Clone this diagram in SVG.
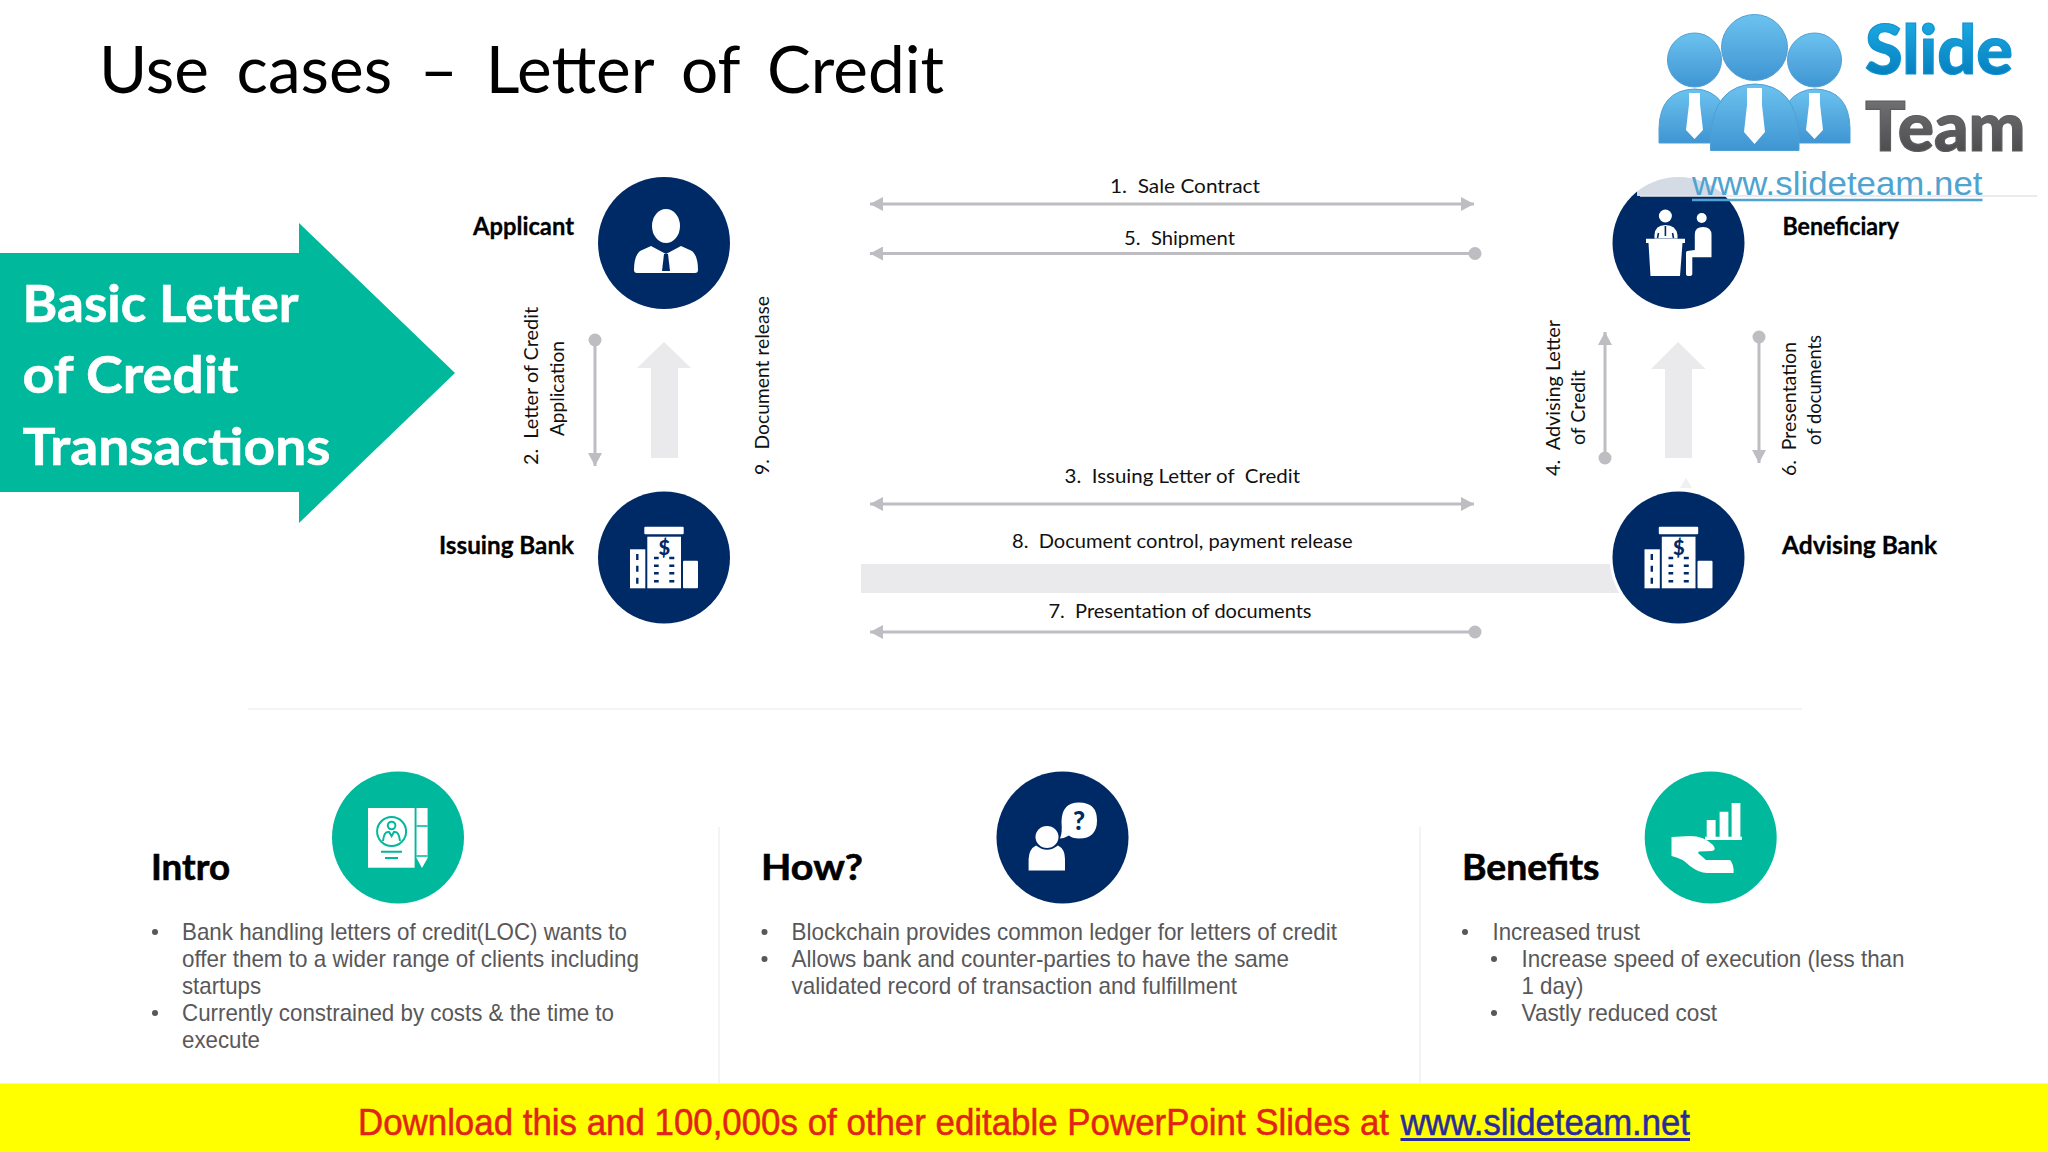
<svg xmlns="http://www.w3.org/2000/svg" width="2048" height="1152" viewBox="0 0 2048 1152">
<style>
text{font-family:"Lato","Noto Sans",sans-serif}
.lab{font-weight:700;font-size:24px;fill:#000;stroke:#000;stroke-width:.3}
.big{font-weight:700;font-size:52px;fill:#fff;stroke:#fff;stroke-width:.6}
.sec{font-weight:700;font-size:37px;fill:#000;stroke:#000;stroke-width:.6}
.t{font-size:20px;fill:#111}
.b{font-family:"Liberation Sans",Arial,sans-serif;font-size:24px;fill:#58585a}
.f{font-family:"Liberation Sans",Arial,sans-serif;font-size:36px;stroke-width:.5}
.w{fill:#fff}.n{fill:#002a66}.g{fill:#00b89c}.nl{stroke:#002a66;fill:none}.gl{stroke:#00b89c;fill:none}
.dot{fill:#58585a}
.c{stroke:#bdbdc2;stroke-width:3;fill:none}
.soft{fill:#eaeaec}
.sep{stroke:#f4f4f6;stroke-width:2;fill:none}
</style>
<defs>
<marker id="ae" markerUnits="userSpaceOnUse" markerWidth="14" markerHeight="14" refX="13" refY="7" orient="auto-start-reverse"><path d="M0 0L13 7L0 14Z" fill="#bdbdc2"/></marker>
<marker id="do" markerUnits="userSpaceOnUse" markerWidth="14" markerHeight="14" refX="7" refY="7"><circle cx="7" cy="7" r="6.5" fill="#bdbdc2"/></marker>
<linearGradient id="pg" x1="0" y1="0" x2="0" y2="1"><stop offset="0" stop-color="#6cc2ee"/><stop offset="1" stop-color="#3f95d2"/></linearGradient>
<linearGradient id="sg" x1="0" y1="0" x2="0" y2="1"><stop offset="0" stop-color="#22b4ea"/><stop offset="1" stop-color="#0076b6"/></linearGradient>
<linearGradient id="tg" x1="0" y1="0" x2="0" y2="1"><stop offset="0" stop-color="#7b7b7d"/><stop offset="1" stop-color="#454547"/></linearGradient>
<g id="bank">
<rect class="w" x="644.3" y="526.7" width="39.4" height="7.6" rx="1"/>
<rect class="w" x="647.3" y="536.7" width="33.7" height="51.6"/>
<rect class="w" x="630" y="549.3" width="15.3" height="39"/>
<rect class="w" x="683" y="560.7" width="15" height="27.6" rx="1"/>
<text x="664.3" y="555" text-anchor="middle" style="font-size:20px;font-weight:900;fill:#002a66">$</text>
<path class="nl" stroke-width="2.4" d="M654 558h4.7M669.3 558h5M654 565.7h4.7M669.3 565.7h5M654 573.3h4.7M669.3 573.3h5M654 581.3h4.7M669.3 581.3h5M637.3 554v6M637.3 565.7v6M637.3 577.7v6"/>
</g>
</defs>
<rect width="2048" height="1152" fill="#fff"/>

<text id="title" x="99" y="93" textLength="845" lengthAdjust="spacingAndGlyphs" style="font-size:66px;word-spacing:11px;fill:#000">Use cases – Letter of Credit</text>

<g id="banner">
<path class="g" d="M0 253H299V223L455 373L299 523V492H0Z"/>
<text class="big" x="22.500" y="322" textLength="276" lengthAdjust="spacingAndGlyphs">Basic Letter</text>
<text class="big" x="22.500" y="393" textLength="216" lengthAdjust="spacingAndGlyphs">of Credit</text>
<text class="big" x="22.500" y="465" textLength="308" lengthAdjust="spacingAndGlyphs">Transactions</text>
</g>

<g id="soft-arrows">
<path class="soft" d="M664 342L691 368H678V458H651V368H637Z"/>
<path class="soft" d="M1678 342L1705.500 369H1692V458H1665V369H1651Z"/>
<path fill="#f0f0f3" d="M1686 478L1692 488H1680Z"/>
<rect class="soft" x="861" y="564" width="780" height="29"/>
</g>

<g id="connectors">
<path class="c" d="M595 340V466" marker-start="url(#do)" marker-end="url(#ae)"/>
<path class="c" d="M1605 458V332" marker-start="url(#do)" marker-end="url(#ae)"/>
<path class="c" d="M1759 337V463" marker-start="url(#do)" marker-end="url(#ae)"/>
<path class="c" d="M1474 204H870" marker-start="url(#ae)" marker-end="url(#ae)"/>
<path class="c" d="M1475 253.500H870" marker-start="url(#do)" marker-end="url(#ae)"/>
<path class="c" d="M1474 504H870" marker-start="url(#ae)" marker-end="url(#ae)"/>
<path class="c" d="M1475 632H870" marker-start="url(#do)" marker-end="url(#ae)"/>
</g>

<g id="connector-labels">
<text class="t" x="1110" y="193" textLength="150" lengthAdjust="spacingAndGlyphs" xml:space="preserve">1.  Sale Contract</text>
<text class="t" x="1124" y="245" textLength="111" lengthAdjust="spacingAndGlyphs" xml:space="preserve">5.  Shipment</text>
<text class="t" x="1064.500" y="483" textLength="235.500" lengthAdjust="spacingAndGlyphs" xml:space="preserve">3.  Issuing Letter of  Credit</text>
<text class="t" x="1012" y="548" textLength="340.500" lengthAdjust="spacingAndGlyphs" xml:space="preserve">8.  Document control, payment release</text>
<text class="t" x="1048.500" y="618" textLength="263" lengthAdjust="spacingAndGlyphs" xml:space="preserve">7.  Presentation of documents</text>
<text class="t" transform="translate(537.500 465) rotate(-90)" textLength="158" lengthAdjust="spacingAndGlyphs" xml:space="preserve">2.  Letter of Credit</text>
<text class="t" transform="translate(564 436) rotate(-90)" textLength="95" lengthAdjust="spacingAndGlyphs">Application</text>
<text class="t" transform="translate(769 475) rotate(-90)" textLength="179" lengthAdjust="spacingAndGlyphs" xml:space="preserve">9.  Document release</text>
<text class="t" transform="translate(1559.500 476) rotate(-90)" textLength="156" lengthAdjust="spacingAndGlyphs" xml:space="preserve">4.  Advising Letter</text>
<text class="t" transform="translate(1584.500 445) rotate(-90)" textLength="75" lengthAdjust="spacingAndGlyphs">of Credit</text>
<text class="t" transform="translate(1795.500 476) rotate(-90)" textLength="134" lengthAdjust="spacingAndGlyphs" xml:space="preserve">6.  Presentation</text>
<text class="t" transform="translate(1821 445) rotate(-90)" textLength="110" lengthAdjust="spacingAndGlyphs">of documents</text>
</g>

<g id="applicant">
<circle class="n" cx="664" cy="243" r="66"/>
<ellipse class="w" cx="666" cy="226" rx="14" ry="17"/>
<path class="w" d="M651 246L666 254L681 246L692 251Q698 256 698 270Q698 273 695 273H637Q634 273 634 270Q634 256 640 251Z"/>
<path class="n" d="M664 254H668L670 271H662Z"/>
<text class="lab" x="473" y="235" textLength="101" lengthAdjust="spacingAndGlyphs">Applicant</text>
</g>

<g id="issuing-bank">
<circle cx="664" cy="557.500" r="69" fill="#fff"/>
<circle class="n" cx="664" cy="557.500" r="66"/>
<use href="#bank"/>
<text class="lab" x="439" y="554" textLength="135" lengthAdjust="spacingAndGlyphs">Issuing Bank</text>
</g>

<g id="beneficiary">
<circle class="n" cx="1678.500" cy="243" r="66"/>
<circle class="w" cx="1665.400" cy="216" r="6.500"/>
<path class="w" d="M1654.500 238.500V235Q1655 225 1665.500 225Q1676 225 1677.500 235V238.500Z"/>
<path class="nl" stroke-width="1.600" d="M1665.400 226V236M1658.500 233L1657.500 238M1672.500 233L1673.500 238"/>
<path class="w" d="M1646 238.700H1685V243H1682.500L1680 276H1650.500L1648.500 243H1646Z"/>
<circle class="w" cx="1701.700" cy="218" r="5"/>
<path class="w" d="M1694.800 250V234Q1695 227 1703 227Q1711.500 227 1711.500 235V257.300H1692.300V274Q1692.300 276 1689 276Q1686 276 1686 274V253Q1686 250.700 1689 250.700Z"/>
<text class="lab" x="1782.500" y="235" textLength="116.500" lengthAdjust="spacingAndGlyphs">Beneficiary</text>
</g>

<g id="advising-bank">
<circle cx="1678.500" cy="557.500" r="69" fill="#fff"/>
<circle class="n" cx="1678.500" cy="557.500" r="66"/>
<use href="#bank" x="1014.500"/>
<text class="lab" x="1782" y="554" textLength="155" lengthAdjust="spacingAndGlyphs">Advising Bank</text>
</g>

<path class="sep" d="M248 709H1802"/>
<path class="sep" d="M719 827V1083M1420 827V1083"/>

<g id="intro">
<text class="sec" x="151" y="880" textLength="79" lengthAdjust="spacingAndGlyphs">Intro</text>
<circle class="g" cx="398" cy="837.500" r="66"/>
<rect class="w" x="368" y="808" width="46.600" height="59.700"/>
<path class="w" d="M416.500 808H427.600V858L422 868L416.500 858Z"/>
<path class="gl" stroke-width="1.500" d="M416.500 826H427.600M416.500 856H427.600"/>
<circle class="gl" stroke-width="2" cx="391.600" cy="831.500" r="14.500"/>
<circle class="gl" stroke-width="2" cx="391.600" cy="825.500" r="3.800"/>
<path class="gl" stroke-width="2" d="M383 841Q384 831 389 832L391.600 836L394 832Q399 831 400 841"/>
<path class="gl" stroke-width="2" d="M381 851.700H402M385 858H398"/>
<circle class="dot" cx="155" cy="932" r="3"/>
<circle class="dot" cx="155" cy="1013" r="3"/>
<text class="b" x="182" y="940" textLength="445" lengthAdjust="spacingAndGlyphs">Bank handling letters of credit(LOC) wants to</text>
<text class="b" x="182" y="967" textLength="457" lengthAdjust="spacingAndGlyphs">offer them to a wider range of clients including</text>
<text class="b" x="182" y="994" textLength="79" lengthAdjust="spacingAndGlyphs">startups</text>
<text class="b" x="182" y="1021" textLength="432" lengthAdjust="spacingAndGlyphs">Currently constrained by costs &amp; the time to</text>
<text class="b" x="182" y="1048" textLength="78" lengthAdjust="spacingAndGlyphs">execute</text>
</g>

<g id="how">
<text class="sec" x="761" y="880" textLength="102" lengthAdjust="spacingAndGlyphs">How?</text>
<circle class="n" cx="1062.500" cy="837.500" r="66"/>
<ellipse class="w" cx="1047" cy="837" rx="11.500" ry="11"/>
<path class="w" d="M1028.600 870.600V859Q1029 849 1036 845.500Q1047 854 1058 845.500Q1065 849 1065 859V870.600Z"/>
<path class="w" d="M1060 838.500Q1062.500 833 1061.500 822Q1061.500 802.500 1079 802.500Q1097 802.500 1097 820.500Q1097 838.500 1079 838.500Q1072 838.500 1069 835.500Q1065 838 1060 838.500Z"/>
<text x="1079" y="830" text-anchor="middle" style="font-size:26px;font-weight:900;fill:#002a66">?</text>
<circle class="dot" cx="764.500" cy="932" r="3"/>
<circle class="dot" cx="764.500" cy="959" r="3"/>
<text class="b" x="791.500" y="940" textLength="545.500" lengthAdjust="spacingAndGlyphs">Blockchain provides common ledger for letters of credit</text>
<text class="b" x="791.500" y="967" textLength="497.500" lengthAdjust="spacingAndGlyphs">Allows bank and counter-parties to have the same</text>
<text class="b" x="791.500" y="994" textLength="445.500" lengthAdjust="spacingAndGlyphs">validated record of transaction and fulfillment</text>
</g>

<g id="benefits">
<text class="sec" x="1462" y="880" textLength="137.500" lengthAdjust="spacingAndGlyphs">Benefits</text>
<circle class="g" cx="1710.700" cy="837.500" r="66"/>
<path class="w" d="M1706.700 820H1715.600V836.700H1706.700ZM1719.600 811.700H1728.400V836.700H1719.600ZM1731.600 803H1740.400V836.700H1731.600ZM1705 836.700H1742V840H1705Z"/>
<path class="w" d="M1671.500 837L1690 836Q1704 836 1713 845Q1717 850 1712 851L1699 851.500L1698 853L1706 860H1730Q1734 864 1733.600 873H1707Q1699 873 1690 866Q1682 858 1671.500 856Z"/>
<circle class="dot" cx="1465" cy="932" r="3"/>
<circle class="dot" cx="1494" cy="959" r="3"/>
<circle class="dot" cx="1494" cy="1013" r="3"/>
<text class="b" x="1492.500" y="940" textLength="147.500" lengthAdjust="spacingAndGlyphs">Increased trust</text>
<text class="b" x="1521.500" y="967" textLength="383" lengthAdjust="spacingAndGlyphs">Increase speed of execution (less than</text>
<text class="b" x="1521.500" y="994" textLength="62" lengthAdjust="spacingAndGlyphs">1 day)</text>
<text class="b" x="1521.500" y="1021" textLength="195.500" lengthAdjust="spacingAndGlyphs">Vastly reduced cost</text>
</g>

<g id="logo">
<rect x="1637" y="0" width="400" height="196" fill="#fff" fill-opacity="0.83"/>
<path d="M1640 196H2037" stroke="#e4e4e8" stroke-width="1.500"/>
<g fill="url(#pg)" stroke="#4e9fd6" stroke-width="1">
<circle cx="1694.500" cy="60" r="27"/>
<circle cx="1814.500" cy="60" r="27"/>
<path d="M1659 143V128Q1660 90 1695 89Q1730 90 1733 143Z"/>
<path d="M1776 143Q1780 90 1815 89Q1849 90 1850 128V143Z"/>
<circle cx="1754.500" cy="47.500" r="33"/>
<path d="M1710.500 150.500V136Q1714 85 1755 84Q1796 85 1799 136V150.500Z"/>
</g>
<path class="w" d="M1689 93H1700V104L1703 130L1694.500 139L1686 130L1689 104ZM1809 93H1820V104L1823 130L1814.500 139L1806 130L1809 104ZM1747 88H1762V105L1765 132L1754.500 144L1744 132L1747 105Z"/>
<text x="1865" y="74" textLength="148" lengthAdjust="spacingAndGlyphs" stroke="#0e93d0" stroke-width="1.200" style="font-size:68px;font-weight:900;fill:url(#sg)">Slide</text>
<text x="1865" y="150.500" textLength="160.500" lengthAdjust="spacingAndGlyphs" stroke="#5d5d5f" stroke-width="1.200" style="font-size:68px;font-weight:900;fill:url(#tg)">Team</text>
<text x="1692" y="195" textLength="290.500" lengthAdjust="spacingAndGlyphs" style="font-family:'Liberation Sans',Arial,sans-serif;font-size:34px;fill:#4fa3d1">www.slideteam.net</text>
<path d="M1692 200H1982.500" stroke="#4fa3d1" stroke-width="2.500"/>
</g>

<g id="footer">
<rect x="0" y="1083.500" width="2048" height="68.500" fill="#ffff00"/>
<text class="f" x="358" y="1135" textLength="1031" lengthAdjust="spacingAndGlyphs" stroke="#e2231a" fill="#e2231a">Download this and 100,000s of other editable PowerPoint Slides at</text>
<text class="f" x="1400.500" y="1135" textLength="289.500" lengthAdjust="spacingAndGlyphs" stroke="#2a2a9f" fill="#2a2a9f">www.slideteam.net</text>
<path d="M1400.500 1139.500H1690" stroke="#2a2a9f" stroke-width="3"/>
</g>
</svg>
